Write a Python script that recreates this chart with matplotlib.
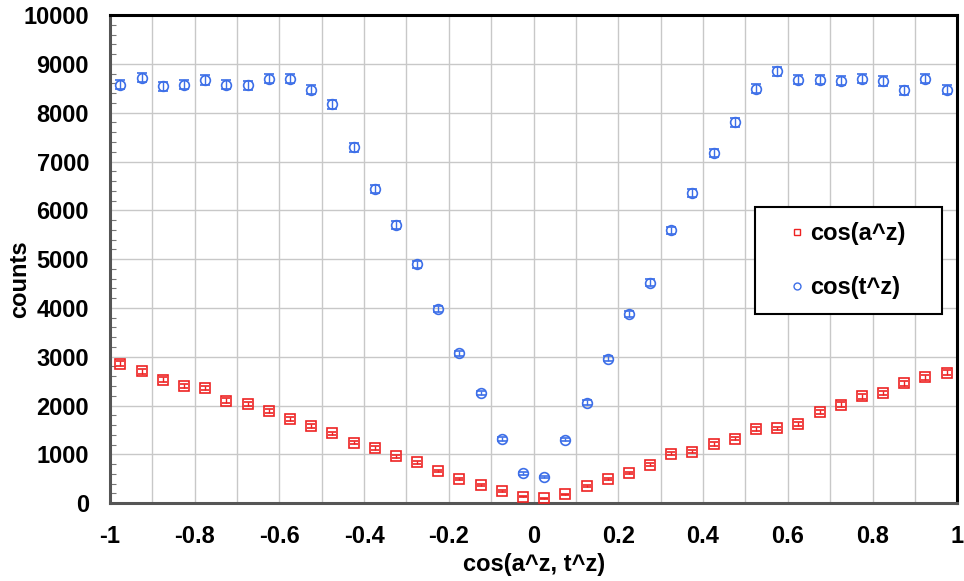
import numpy as np
import matplotlib
matplotlib.use('Agg')
import matplotlib.pyplot as plt
from matplotlib.lines import Line2D
from matplotlib.ticker import MultipleLocator

# bin centres of cos(a^z, t^z)
x_bins = [-0.975, -0.925, -0.875, -0.825, -0.775, -0.725, -0.675, -0.625, -0.575, -0.525,
          -0.475, -0.425, -0.375, -0.325, -0.275, -0.225, -0.175, -0.125, -0.075, -0.025,
          0.025, 0.075, 0.125, 0.175, 0.225, 0.275, 0.325, 0.375, 0.425, 0.475,
          0.525, 0.575, 0.625, 0.675, 0.725, 0.775, 0.825, 0.875, 0.925, 0.975]

# cos(a^z) 计数
counts_a = [2860, 2700, 2530, 2400, 2360, 2100, 2030, 1890, 1720, 1580,
            1430, 1240, 1130, 960, 840, 660, 500, 380, 250, 130,
            100, 180, 360, 490, 620, 790, 1010, 1050, 1210, 1320,
            1520, 1530, 1620, 1860, 2020, 2190, 2260, 2460, 2580, 2670]

# cos(t^z) 计数
counts_t = [8570, 8720, 8545, 8570, 8670, 8570, 8565, 8700, 8700, 8470,
            8170, 7290, 6430, 5700, 4890, 3980, 3070, 2260, 1310, 610,
            530, 1300, 2060, 2960, 3870, 4520, 5590, 6350, 7170, 7800,
            8490, 8850, 8680, 8680, 8660, 8700, 8650, 8460, 8700, 8470]

x_ticks = [-1, -0.8, -0.6, -0.4, -0.2, 0, 0.2, 0.4, 0.6, 0.8, 1]
x_tick_labels = ['-1', '-0.8', '-0.6', '-0.4', '-0.2', '0', '0.2', '0.4', '0.6', '0.8', '1']

bold_font = ['Liberation Sans', 'DejaVu Sans']
red = '#ee2222'
blue = '#3d6fe8'

fig = plt.figure(figsize=(9.64, 5.81), dpi=100)
ax = fig.add_axes([0.114, 0.134, 0.879, 0.840])

xa = np.array(x_bins)
ya = np.array(counts_a)
yt = np.array(counts_t)

ax.errorbar(xa, ya, yerr=np.sqrt(ya), fmt='s', ms=6.5, mfc='none', mec=red, mew=1.2,
            ecolor=red, elinewidth=1.0, capsize=3.0, capthick=1.0, zorder=3)
ax.errorbar(xa, yt, yerr=np.sqrt(yt), fmt='o', ms=7, mfc='none', mec=blue, mew=1.2,
            ecolor=blue, elinewidth=1.0, capsize=3.5, capthick=1.0, zorder=3)

ax.set_xlim(-1, 1)
ax.set_ylim(0, 10000)
ax.set_xticks(x_ticks)
ax.set_xticklabels(x_tick_labels, family=bold_font, fontweight='bold', fontsize=17)
ax.xaxis.set_minor_locator(MultipleLocator(0.1))
ax.yaxis.set_major_locator(MultipleLocator(1000))
ax.yaxis.set_minor_locator(MultipleLocator(200))
for lab in ax.get_yticklabels():
    lab.set_family(bold_font)
    lab.set_fontweight('bold')
    lab.set_fontsize(17)

ax.tick_params(axis='both', which='both', direction='in', color='#777777')
ax.tick_params(axis='x', which='both', length=0, pad=15.5)
ax.tick_params(axis='y', which='major', length=0, pad=15)
ax.tick_params(axis='y', which='minor', length=4, width=0.8)

ax.grid(True, which='major', color='#c8c8c8', linewidth=1.0, zorder=0)
ax.grid(True, which='minor', axis='x', color='#c8c8c8', linewidth=1.0, zorder=0)
ax.set_axisbelow(True)

for side in ['top', 'right']:
    ax.spines[side].set_color('black')
    ax.spines[side].set_linewidth(2.2)
for side in ['left', 'bottom']:
    ax.spines[side].set_color('#555555')
    ax.spines[side].set_linewidth(2.2)

ax.set_xlabel('cos(a^z, t^z)', family=bold_font, fontweight='bold', fontsize=17, labelpad=4)
ax.set_ylabel('counts', family=bold_font, fontweight='bold', fontsize=17, va='center')
ax.yaxis.set_label_coords(-0.1066, 0.458)

# 图例只显示标记，不显示误差棒
handles = [Line2D([], [], ls='none', marker='s', ms=5, mfc='none', mec=red, mew=1.0),
           Line2D([], [], ls='none', marker='o', ms=5, mfc='none', mec=blue, mew=1.0)]
leg = ax.legend(handles, ['cos(a^z)', 'cos(t^z)'], loc='upper left',
                bbox_to_anchor=(0.7615, 0.387, 0.2208, 0.2196), mode='expand',
                frameon=True, fancybox=False,
                prop={'family': bold_font, 'weight': 'bold', 'size': 17},
                handlelength=2.26, handletextpad=-0.58,
                borderpad=0.65, labelspacing=1.3, borderaxespad=0)
leg.get_frame().set_edgecolor('black')
leg.get_frame().set_linewidth(1.5)
leg.get_frame().set_alpha(1)

fig.savefig('out.png', dpi=100)
